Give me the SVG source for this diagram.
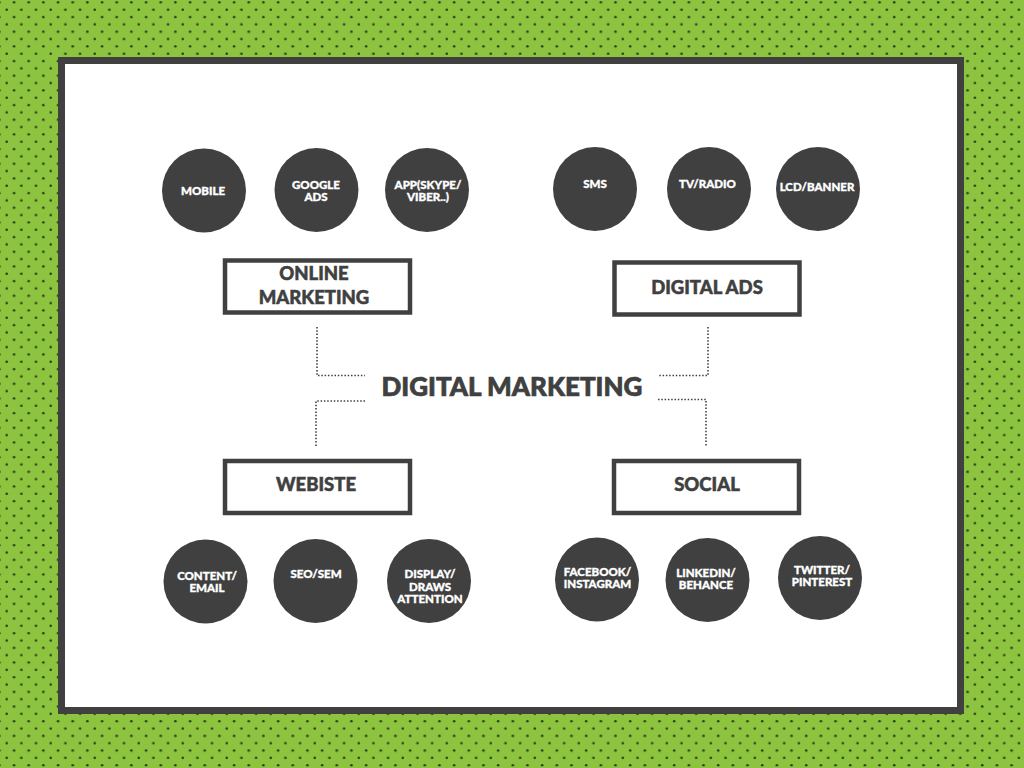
<svg xmlns="http://www.w3.org/2000/svg" width="1024" height="768" viewBox="0 0 1024 768">
<defs>
<pattern id="dots" patternUnits="userSpaceOnUse" x="3.03" y="6.03" width="14.67" height="14.67">
<rect width="14.67" height="14.67" fill="#8cc43f"/>
<circle cx="3.67" cy="3.67" r="1.3" fill="#2e3a22"/>
<circle cx="11" cy="11" r="1.3" fill="#2e3a22"/>
</pattern>
<style>
.c{fill:#404040}
.ct{fill:#ffffff;stroke:#ffffff;stroke-width:0.35;font-family:Lato,"Open Sans",sans-serif;font-weight:900;font-size:11.5px;text-anchor:middle}
.bx{fill:#ffffff;stroke:#404040;stroke-width:4.5}
.bt{fill:#404040;stroke:#404040;stroke-width:0.5;font-family:Lato,"Open Sans",sans-serif;font-weight:900;font-size:18.5px;text-anchor:middle}
.ln{fill:none;stroke:#404040;stroke-width:1.6;stroke-dasharray:1.5 1.8}
</style>
</defs>
<rect width="1024" height="768" fill="url(#dots)"/>
<rect x="61.5" y="60.5" width="899" height="650" fill="#ffffff" stroke="#404040" stroke-width="7"/>

<g id="connectors">
<path class="ln" d="M317 327 V375.5 H365"/>
<path class="ln" d="M365 401 H316 V447"/>
<path class="ln" d="M708 327 V375.5 H658"/>
<path class="ln" d="M658 399.5 H706 V447"/>
</g>

<g id="center"><text x="512" y="396" class="bt" style="font-size:26px;stroke-width:0.7">DIGITAL MARKETING</text></g>

<g id="online-marketing"><rect class="bx" x="225" y="260.5" width="185" height="52"/><text class="bt" x="314" y="280">ONLINE</text><text class="bt" x="314" y="304">MARKETING</text></g>
<g id="digital-ads"><rect class="bx" x="614.5" y="262.5" width="185" height="52"/><text class="bt" x="707" y="294">DIGITAL ADS</text></g>
<g id="webiste"><rect class="bx" x="225" y="461" width="185" height="52"/><text class="bt" x="316" y="491">WEBISTE</text></g>
<g id="social"><rect class="bx" x="614" y="461" width="185" height="52"/><text class="bt" x="707" y="491">SOCIAL</text></g>

<g id="mobile"><circle class="c" cx="204" cy="190.5" r="42"/><text class="ct" x="203" y="195">MOBILE</text></g>
<g id="google-ads"><circle class="c" cx="316.5" cy="190" r="42"/><text class="ct" x="316" y="188.5">GOOGLE</text><text class="ct" x="316" y="200.5">ADS</text></g>
<g id="app"><circle class="c" cx="427" cy="190" r="42"/><text class="ct" x="428" y="188.5">APP(SKYPE/</text><text class="ct" x="428" y="200.5">VIBER..)</text></g>
<g id="sms"><circle class="c" cx="595" cy="189" r="42"/><text class="ct" x="595" y="187.5">SMS</text></g>
<g id="tv-radio"><circle class="c" cx="709" cy="189" r="42"/><text class="ct" x="707.5" y="187.5">TV/RADIO</text></g>
<g id="lcd-banner"><circle class="c" cx="818" cy="189" r="42"/><text class="ct" x="817" y="191">LCD/BANNER</text></g>

<g id="content-email"><circle class="c" cx="205.5" cy="581.5" r="42"/><text class="ct" x="207" y="580">CONTENT/</text><text class="ct" x="207" y="591.5">EMAIL</text></g>
<g id="seo-sem"><circle class="c" cx="315.5" cy="581" r="42"/><text class="ct" x="316" y="578">SEO/SEM</text></g>
<g id="display"><circle class="c" cx="429" cy="581" r="42"/><text class="ct" x="430" y="578">DISPLAY/</text><text class="ct" x="430" y="590.5">DRAWS</text><text class="ct" x="430" y="603">ATTENTION</text></g>
<g id="facebook"><circle class="c" cx="597" cy="579.5" r="42"/><text class="ct" x="597.5" y="575.5">FACEBOOK/</text><text class="ct" x="597.5" y="587.5">INSTAGRAM</text></g>
<g id="linkedin"><circle class="c" cx="707.5" cy="580" r="42"/><text class="ct" x="706" y="577">LINKEDIN/</text><text class="ct" x="706" y="589">BEHANCE</text></g>
<g id="twitter"><circle class="c" cx="820" cy="578" r="42"/><text class="ct" x="822" y="574">TWITTER/</text><text class="ct" x="822" y="586">PINTEREST</text></g>
</svg>
